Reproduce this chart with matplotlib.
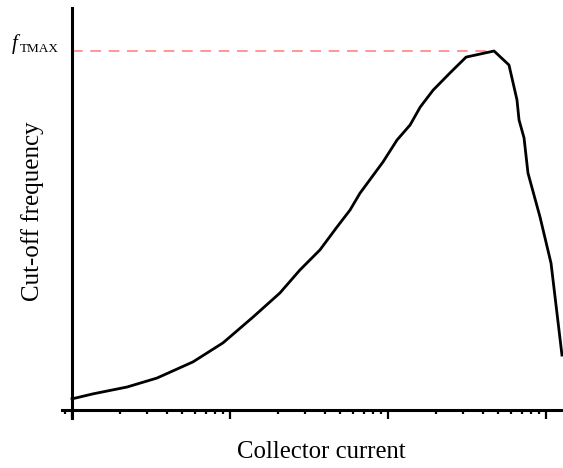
import numpy as np
import matplotlib
matplotlib.use("Agg")
import matplotlib.pyplot as plt
from matplotlib.ticker import LogLocator, NullFormatter

# Data (collector current, cut-off frequency; arbitrary units)
collector_current = [1.0, 1.36, 2.23, 3.45, 5.83, 9.03, 14.0, 20.7, 27.7, 37.1, 47.6,
                     57.5, 66.5, 93.0, 114, 138, 160, 193, 247, 312, 469, 583, 655,
                     675, 726, 769, 916, 1076, 1262]
cutoff_frequency = [0.31, 0.45, 0.64, 0.89, 1.34, 1.87, 2.59, 3.26, 3.90, 4.46, 5.10,
                    5.57, 6.04, 6.91, 7.52, 7.94, 8.44, 8.91, 9.39, 9.83, 10.0, 9.61,
                    8.64, 8.08, 7.58, 6.60, 5.38, 4.09, 1.53]
f_tmax = 10.0
y_label = "Cut-off frequency"
x_label = "Collector current"
fmax_symbol = "f"
fmax_subscript = "TMAX"

plt.rcParams['font.family'] = ['Liberation Serif', 'DejaVu Serif']

W, H = 563, 468
fig = plt.figure(figsize=(W / 100, H / 100), dpi=100)
left_px, right_px, top_px, bot_px = 62, 563, 8, 418
ax = fig.add_axes([left_px / W, 1 - bot_px / H, (right_px - left_px) / W, (bot_px - top_px) / H])

ax.set_xscale('log')
ax.set_xlim(10 ** (-10 / 158), 10 ** (491 / 158))
ax.set_ylim(-8 / 359 * 10, (410 - top_px) / 359 * 10)

ax.plot(collector_current, cutoff_frequency, color='black', lw=2.0, solid_joinstyle='round', clip_on=False, zorder=3)
ax.plot([1.0, collector_current[int(np.argmax(cutoff_frequency))]], [f_tmax, f_tmax],
        color='#ff7a7a', lw=1.1, dashes=(7, 5), zorder=2)

for s in ['top', 'right']:
    ax.spines[s].set_visible(False)
ax.spines['left'].set_position(('data', 1.0))
ax.spines['bottom'].set_position(('data', 0.0))
for s in ['left', 'bottom']:
    ax.spines[s].set_linewidth(2.2)
    ax.spines[s].set_color('black')

ax.xaxis.set_major_locator(LogLocator(base=10, numticks=10))
ax.xaxis.set_minor_locator(LogLocator(base=10, subs=np.arange(2, 10), numticks=10))
ax.xaxis.set_major_formatter(NullFormatter())
ax.xaxis.set_minor_formatter(NullFormatter())
ax.tick_params(axis='x', which='major', direction='out', length=6.5, width=1.6, color='black')
ax.tick_params(axis='x', which='minor', direction='out', length=3.0, width=1.6, color='black')
ax.set_yticks([])

fig.text(12 / W, 1 - 49 / H, fmax_symbol, style='italic', fontsize=15, ha='left', va='baseline')
fig.text(20 / W, 1 - 52 / H, fmax_subscript, fontsize=9.5, ha='left', va='baseline')

fig.text(33 / W, 1 - 211 / H, y_label, rotation=90, ha='center', va='center', fontsize=18)
fig.text(321 / W, 1 - 452 / H, x_label, ha='center', va='center', fontsize=17.8)

fig.savefig('out.png', dpi=100)
